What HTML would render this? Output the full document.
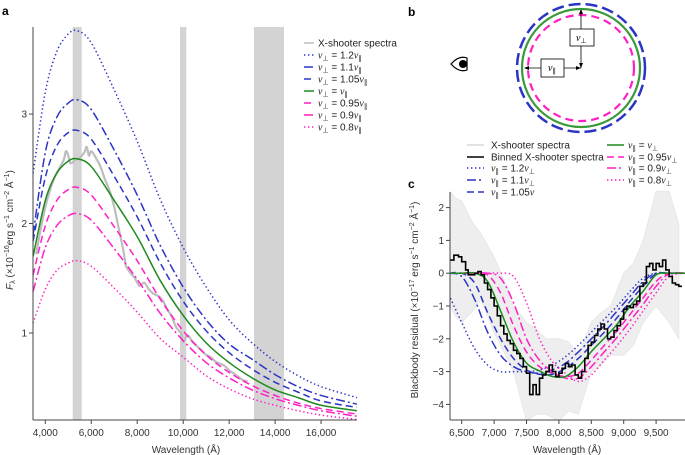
<!DOCTYPE html>
<html><head><meta charset="utf-8">
<style>
html,body{margin:0;padding:0;background:#fff;}
svg{display:block;font-family:"Liberation Sans",sans-serif;}
.t{font-size:10px;fill:#333;}
.lg{font-size:10px;fill:#222;}
.nu{font-family:"Liberation Serif",serif;font-style:italic;}
</style></head>
<body>
<svg id="fig" width="685" height="455" viewBox="0 0 685 455" xmlns="http://www.w3.org/2000/svg">
<text x="2" y="15" font-size="12" font-weight="bold">a</text>
<text x="408" y="16" font-size="12" font-weight="bold">b</text>
<text x="408" y="188" font-size="12" font-weight="bold">c</text>
<g id="pa"></g>
<g id="pb">
  <circle cx="581" cy="68" r="64" fill="none" stroke="#2b35c4" stroke-width="2.5" stroke-dasharray="12 5"/>
  <circle cx="581" cy="68" r="59" fill="none" stroke="#3a9a3a" stroke-width="2.2"/>
  <circle cx="581" cy="68" r="53" fill="none" stroke="#ff1fc6" stroke-width="2.2" stroke-dasharray="8 5"/>
  <line x1="581" y1="68" x2="581" y2="12" stroke="#000" stroke-width="0.8"/>
  <polygon points="581,9 579,14 583,14" fill="#000"/>
  <polygon points="581,68 579,63 583,63" fill="#000"/>
  <line x1="581" y1="68" x2="527" y2="68" stroke="#000" stroke-width="0.8"/>
  <polygon points="524,68 529,66 529,70" fill="#000"/>
  <polygon points="581,68 576,66 576,70" fill="#000"/>
  <rect x="570" y="29" width="24" height="17" fill="#fff" stroke="#000" stroke-width="0.8"/>
  <text x="576" y="41" class="nu" font-size="10">ν<tspan font-size="7" dy="2" font-style="normal">⊥</tspan></text>
  <rect x="541" y="59" width="23" height="18" fill="#fff" stroke="#000" stroke-width="0.8"/>
  <text x="548" y="71" class="nu" font-size="10">ν<tspan font-size="7" dy="2" font-style="normal">∥</tspan></text>
  <g>
    <path d="M451 64 Q459 55 467 58 L467 70 Q459 73 451 64 Z" fill="#fff" stroke="#000" stroke-width="1.2"/>
    <circle cx="463" cy="64" r="4" fill="#000"/>
  </g>
</g>
<g id="lc"></g>
<g id="pc"></g>
</svg>
<script>
// ---------- Panel A data ----------
const aWave = [3470,4000,4500,5000,5400,6000,7000,8000,9000,10000,11000,12000,13000,14000,15000,16000,17560];
const aV12  = [2.46,3.20,3.57,3.73,3.76,3.65,3.22,2.75,2.22,1.78,1.42,1.12,0.91,0.74,0.61,0.51,0.41];
const aV11  = [1.90,2.65,2.97,3.10,3.13,3.04,2.67,2.26,1.80,1.42,1.12,0.90,0.76,0.62,0.51,0.43,0.35];
const aV105 = [1.84,2.42,2.71,2.83,2.85,2.77,2.43,2.06,1.64,1.29,1.02,0.82,0.67,0.55,0.46,0.38,0.32];
const aV10  = [1.70,2.21,2.46,2.57,2.59,2.52,2.21,1.88,1.48,1.16,0.91,0.73,0.59,0.48,0.41,0.34,0.29];
const aV095 = [1.53,1.98,2.21,2.31,2.33,2.26,1.97,1.66,1.31,1.02,0.80,0.64,0.52,0.43,0.36,0.31,0.26];
const aV09  = [1.38,1.78,1.98,2.07,2.09,2.03,1.77,1.49,1.18,0.93,0.73,0.59,0.48,0.40,0.34,0.29,0.24];
const aV08  = [1.09,1.40,1.57,1.64,1.66,1.61,1.41,1.19,0.95,0.78,0.61,0.49,0.40,0.34,0.29,0.25,0.21];
const specWave = [3600,3800,4000,4200,4400,4600,4800,4900,5000,5100,5300,5500,5700,5800,5900,6000,6200,6400,6600,6800,7000,7200,7400,7500,7600,7700,7900,8100,8300,8500,8700,8900,9100,9300,9500,9700,9900,10000,10200,10400,10600,10800,11000,11200,11400,11600,11800,12000,12200,12400,12600,12800];
const specVal  = [1.72,1.95,2.15,2.30,2.42,2.50,2.58,2.66,2.62,2.55,2.58,2.60,2.65,2.70,2.62,2.66,2.60,2.52,2.40,2.30,2.15,1.95,1.75,1.62,1.58,1.55,1.50,1.43,1.46,1.40,1.36,1.34,1.30,1.22,1.15,1.05,1.00,0.92,0.98,0.92,0.88,0.84,0.80,0.78,0.74,0.72,0.70,0.66,0.63,0.60,0.57,0.56];
const bands = [[5192,5583],[9862,10136],[13082,14387]];
const aXTicks = [4000,6000,8000,10000,12000,14000,16000];
const aXTickLabels = ["4,000","6,000","8,000","10,000","12,000","14,000","16,000"];
const aYTicks = [1,2,3];

// ---------- Panel C data ----------
const cWave = [6300,6500,6700,6900,7100,7300,7500,7700,7900,8100,8300,8500,8700,8900,9100,9300,9500,9700,9950];
const cV12  = [-0.65,-1.5,-2.3,-2.8,-3.0,-3.0,-3.0,-2.95,-2.8,-2.55,-2.2,-1.8,-1.4,-1.0,-0.55,-0.15,0,0,0];
const cV11  = [0,-0.1,-0.8,-1.8,-2.5,-2.85,-3.0,-3.05,-2.95,-2.75,-2.4,-2.0,-1.6,-1.15,-0.7,-0.25,0,0,0];
const cV105 = [0,0,-0.3,-1.2,-2.0,-2.6,-2.95,-3.08,-3.08,-2.9,-2.6,-2.2,-1.8,-1.35,-0.85,-0.4,-0.02,0,0];
const cV10  = [0,0,0,-0.25,-1.15,-2.1,-2.74,-2.98,-3.15,-3.15,-2.85,-2.39,-1.98,-1.55,-1.0,-0.55,-0.05,0,0];
const cV095 = [0,0,0,-0.05,-0.6,-1.6,-2.4,-2.85,-3.05,-3.15,-3.05,-2.65,-2.2,-1.75,-1.25,-0.75,-0.25,0,0];
const cV09  = [0,0,0,0,-0.15,-0.9,-2.0,-2.65,-3.0,-3.2,-3.2,-2.85,-2.4,-1.95,-1.45,-0.95,-0.4,-0.02,0];
const cV08  = [0,0,0,0,0,-0.1,-0.9,-2.0,-2.7,-3.05,-3.3,-3.1,-2.65,-2.2,-1.7,-1.15,-0.6,-0.1,0];
const binWave = [6320,6380,6450,6500,6560,6600,6700,6750,6800,6850,6900,6950,7000,7050,7100,7150,7200,7250,7300,7350,7400,7450,7500,7550,7600,7650,7700,7750,7800,7850,7900,7950,8000,8050,8100,8150,8200,8250,8300,8350,8400,8450,8500,8550,8600,8650,8700,8750,8800,8850,8900,8950,9000,9050,9100,9150,9200,9250,9300,9350,9400,9450,9500,9550,9600,9650,9700,9750,9800,9850];
const binVal  = [0.4,0.55,0.5,0.35,0.1,-0.05,0,0.05,-0.05,-0.3,-0.5,-0.75,-1.0,-1.3,-1.6,-1.85,-2.05,-2.15,-2.35,-2.45,-2.6,-2.85,-3.05,-3.7,-3.4,-3.7,-3.2,-3.1,-3.0,-2.8,-3.0,-3.15,-3.05,-2.9,-2.75,-2.85,-2.8,-3.1,-3.2,-3.0,-2.6,-2.2,-2.1,-1.9,-1.7,-1.55,-1.7,-2.0,-1.95,-1.75,-1.6,-1.4,-1.1,-1.0,-1.05,-0.95,-0.85,-0.4,-0.3,0.2,0.3,0.1,0.3,0.2,0.4,0.1,-0.1,-0.3,-0.35,-0.4];
const envWave = [6320,6400,6500,6650,6800,7000,7150,7300,7500,7650,7800,8000,8150,8300,8500,8650,8800,9000,9150,9300,9500,9700,9850];
const envHi   = [2.5,2.3,2.2,1.6,1.2,0.5,-0.2,-1.0,-1.5,-1.7,-2.0,-2.0,-2.1,-2.5,-1.5,-1.2,-1.0,0.0,0.3,1.0,2.5,2.5,1.5];
const envLo   = [-1.0,-1.3,-1.5,-1.2,-0.8,-1.8,-2.4,-3.0,-4.5,-4.3,-4.3,-4.5,-4.2,-4.3,-3.0,-2.8,-2.5,-2.5,-2.2,-1.5,-1.0,-1.5,-2.0];
const cXTicks = [6500,7000,7500,8000,8500,9000,9500];
const cXTickLabels = ["6,500","7,000","7,500","8,000","8,500","9,000","9,500"];
const cYTicks = [2,1,0,-1,-2,-3,-4];

const NS = "http://www.w3.org/2000/svg";
const BLUE = "#2b35c4", GREEN = "#1f8a1f", PINK = "#ff1fc6";
const DOT = "1.4 2.6", DASHDOT = "9 3 2 3", DASH = "7 4";
function mk(parent, tag, attrs){ const e=document.createElementNS(NS,tag); for(const k in attrs) e.setAttribute(k,attrs[k]); parent.appendChild(e); return e; }
function smooth(pts){
  let d="M"+pts[0][0].toFixed(2)+","+pts[0][1].toFixed(2);
  for(let i=0;i<pts.length-1;i++){
    const p0=pts[Math.max(0,i-1)],p1=pts[i],p2=pts[i+1],p3=pts[Math.min(pts.length-1,i+2)];
    const c1=[p1[0]+(p2[0]-p0[0])/6,p1[1]+(p2[1]-p0[1])/6];
    const c2=[p2[0]-(p3[0]-p1[0])/6,p2[1]-(p3[1]-p1[1])/6];
    d+=" C"+c1[0].toFixed(2)+","+c1[1].toFixed(2)+" "+c2[0].toFixed(2)+","+c2[1].toFixed(2)+" "+p2[0].toFixed(2)+","+p2[1].toFixed(2);
  }
  return d;
}

// ---------- Panel A ----------
const pa=document.getElementById("pa");
const aL=33,aR=357,aT=27,aB=420;
const ax=v=>45.3+(v-4000)*0.02298;
const ay=v=>333-(v-1)*109.5;
bands.forEach((b,i)=>{
  const r=mk(pa,"rect",{x:ax(b[0]),y:aT,width:ax(b[1])-ax(b[0]),height:aB-aT,fill:"#d3d3d3"});
  
  
});
const sp=mk(pa,"path",{d:smooth(specWave.map((w,i)=>[ax(w),ay(specVal[i])])),fill:"none",stroke:"#bdbdbd","stroke-width":2.2});


const aSeries=[[aV12,BLUE,DOT,"v-1.2"],[aV11,BLUE,DASHDOT,"v-1.1"],[aV105,BLUE,DASH,"v-1.05"],[aV10,GREEN,"","v-1.0"],[aV095,PINK,DASH,"v-0.95"],[aV09,PINK,DASHDOT,"v-0.9"],[aV08,PINK,DOT,"v-0.8"]];
aSeries.forEach(s=>{
  const p=mk(pa,"path",{d:smooth(aWave.map((w,i)=>[ax(w),ay(s[0][i])])),fill:"none",stroke:s[1],"stroke-width":1.5,"stroke-dasharray":s[2]||"none"});
  
  
});
let g=mk(pa,"g",{});


mk(g,"line",{x1:aL,y1:aB,x2:aR,y2:aB,stroke:"#444","stroke-width":1});
aXTicks.forEach((t,i)=>{
  mk(g,"line",{x1:ax(t),y1:aB,x2:ax(t),y2:aB+4,stroke:"#444"});
  const tx=mk(g,"text",{x:ax(t),y:436,"text-anchor":"middle",class:"t"}); tx.textContent=aXTickLabels[i];
});
const axl=mk(g,"text",{x:186,y:453,"text-anchor":"middle",class:"t"}); axl.textContent="Wavelength (Å)";
g=mk(pa,"g",{});


mk(g,"line",{x1:aL,y1:aT,x2:aL,y2:aB,stroke:"#444","stroke-width":1});
aYTicks.forEach(t=>{
  mk(g,"line",{x1:aL-4,y1:ay(t),x2:aL,y2:ay(t),stroke:"#444"});
  const tx=mk(g,"text",{x:aL-6,y:ay(t)+3.5,"text-anchor":"end",class:"t"}); tx.textContent=t;
});
const yl=mk(g,"text",{transform:"translate(13,230) rotate(-90)","text-anchor":"middle",class:"t","font-size":"9.5"});
yl.innerHTML='<tspan font-style="italic">F</tspan><tspan font-size="7" dy="2">λ</tspan><tspan dy="-2"> (×10</tspan><tspan font-size="7" dy="-4">−16</tspan><tspan dy="4">erg s</tspan><tspan font-size="7" dy="-4">−1</tspan><tspan dy="4"> cm</tspan><tspan font-size="7" dy="-4">−2</tspan><tspan dy="4"> Å</tspan><tspan font-size="7" dy="-4">−1</tspan><tspan dy="4">)</tspan>';

// Legend A
const la=mk(pa,"g",{});


const aLeg=[["#bdbdbd","",null,"X-shooter spectra"],[BLUE,DOT,"1.2"],[BLUE,DASHDOT,"1.1"],[BLUE,DASH,"1.05"],[GREEN,"",""],[PINK,DASH,"0.95"],[PINK,DASHDOT,"0.9"],[PINK,DOT,"0.8"]];
aLeg.forEach((e,i)=>{
  const y=43+i*12;
  mk(la,"line",{x1:304,y1:y,x2:314,y2:y,stroke:e[0],"stroke-width":1.5,"stroke-dasharray":e[1]||"none"});
  const t=mk(la,"text",{x:318,y:y+3.5,class:"lg"});
  if(e[2]===null){ t.textContent=e[3]; }
  else t.innerHTML='<tspan class="nu">ν</tspan><tspan font-size="7" dy="2">⊥</tspan><tspan dy="-2"> = '+e[2]+'</tspan><tspan class="nu">ν</tspan><tspan font-size="7" dy="2">∥</tspan>';
  
  
});

// ---------- Legend C ----------
const lc=document.getElementById("lc");
const cLeg=[[467,145,"#d9d9d9","",'X-shooter spectra'],[467,157,"#000","",'Binned X-shooter spectra'],
 [467,168,BLUE,DOT,'<tspan class="nu">ν</tspan><tspan font-size="7" dy="2">∥</tspan><tspan dy="-2"> = 1.2</tspan><tspan class="nu">ν</tspan><tspan font-size="7" dy="2">⊥</tspan>'],
 [467,180,BLUE,DASHDOT,'<tspan class="nu">ν</tspan><tspan font-size="7" dy="2">∥</tspan><tspan dy="-2"> = 1.1</tspan><tspan class="nu">ν</tspan><tspan font-size="7" dy="2">⊥</tspan>'],
 [467,192,BLUE,DASH,'<tspan class="nu">ν</tspan><tspan font-size="7" dy="2">∥</tspan><tspan dy="-2"> = 1.05</tspan><tspan class="nu">ν</tspan>'],
 [607,145,GREEN,"",'<tspan class="nu">ν</tspan><tspan font-size="7" dy="2">∥</tspan><tspan dy="-2"> = </tspan><tspan class="nu">ν</tspan><tspan font-size="7" dy="2">⊥</tspan>'],
 [607,157,PINK,DASH,'<tspan class="nu">ν</tspan><tspan font-size="7" dy="2">∥</tspan><tspan dy="-2"> = 0.95</tspan><tspan class="nu">ν</tspan><tspan font-size="7" dy="2">⊥</tspan>'],
 [607,168,PINK,DASHDOT,'<tspan class="nu">ν</tspan><tspan font-size="7" dy="2">∥</tspan><tspan dy="-2"> = 0.9</tspan><tspan class="nu">ν</tspan><tspan font-size="7" dy="2">⊥</tspan>'],
 [607,180,PINK,DOT,'<tspan class="nu">ν</tspan><tspan font-size="7" dy="2">∥</tspan><tspan dy="-2"> = 0.8</tspan><tspan class="nu">ν</tspan><tspan font-size="7" dy="2">⊥</tspan>']];
cLeg.forEach(e=>{
  const x0 = e[0]===467 ? 467 : 607;
  mk(lc,"line",{x1:x0,y1:e[1],x2:x0+17,y2:e[1],stroke:e[2],"stroke-width":1.5,"stroke-dasharray":e[3]||"none"});
  const t=mk(lc,"text",{x:x0+ (e[0]===467?24:21),y:e[1]+3.5,class:"lg"});
  t.innerHTML=e[4];
  
  
});

// ---------- Panel C ----------
const pc=document.getElementById("pc");
const cL=450,cR=685,cT=192,cB=420;
const cx=v=>461.7+(v-6500)*(32.4/500);
const cy=v=>273.2-v*32.8;
const clip=mk(pc,"clipPath",{id:"cclip"}); mk(clip,"rect",{x:cL,y:cT-4,width:cR-cL,height:cB-cT+4});
const cg=mk(pc,"g",{"clip-path":"url(#cclip)"});
const envPts=envWave.map((w,i)=>[cx(w),cy(envHi[i])]);
const envLoPts=envWave.map((w,i)=>[cx(w),cy(envLo[i])]).reverse();
const env=mk(cg,"path",{d:"M"+envPts.map(p=>p.join(",")).join(" L")+" L"+envLoPts.map(p=>p.join(",")).join(" L")+" Z",fill:"#eeeeee",stroke:"#e8e8e8","stroke-width":1});


const cSeries=[[cV12,BLUE,DOT,"v-1.2"],[cV11,BLUE,DASHDOT,"v-1.1"],[cV105,BLUE,DASH,"v-1.05"],[cV095,PINK,DASH,"v-0.95"],[cV09,PINK,DASHDOT,"v-0.9"],[cV08,PINK,DOT,"v-0.8"],[cV10,GREEN,"","v-1.0"]];
cSeries.forEach(s=>{
  const p=mk(cg,"path",{d:smooth(cWave.map((w,i)=>[cx(w),cy(s[0][i])])),fill:"none",stroke:s[1],"stroke-width":1.5,"stroke-dasharray":s[2]||"none"});
  
  
});
let bd="";
binWave.forEach((w,i)=>{
  const x1=cx(w), x2=cx(i<binWave.length-1?binWave[i+1]:w+50), y=cy(binVal[i]);
  bd += (i===0?"M":" L")+x1.toFixed(1)+","+y.toFixed(1)+" L"+x2.toFixed(1)+","+y.toFixed(1);
});
const bp=mk(cg,"path",{d:bd,fill:"none",stroke:"#000","stroke-width":1.6});


g=mk(pc,"g",{});


mk(g,"line",{x1:cL,y1:cB,x2:cR,y2:cB,stroke:"#444"});
cXTicks.forEach((t,i)=>{
  mk(g,"line",{x1:cx(t),y1:cB,x2:cx(t),y2:cB+4,stroke:"#444"});
  const tx=mk(g,"text",{x:cx(t),y:436,"text-anchor":"middle",class:"t"}); tx.textContent=cXTickLabels[i];
});
const cxl=mk(g,"text",{x:567,y:453,"text-anchor":"middle",class:"t"}); cxl.textContent="Wavelength (Å)";
g=mk(pc,"g",{});


mk(g,"line",{x1:cL,y1:cT,x2:cL,y2:cB,stroke:"#444"});
cYTicks.forEach(t=>{
  mk(g,"line",{x1:cL-4,y1:cy(t),x2:cL,y2:cy(t),stroke:"#444"});
  const tx=mk(g,"text",{x:cL-6,y:cy(t)+3.5,"text-anchor":"end",class:"t"}); tx.textContent=(t<0?"−"+(-t):t);
});
const cyl=mk(g,"text",{transform:"translate(418,300) rotate(-90)","text-anchor":"middle",class:"t","font-size":"9.5"});
cyl.innerHTML='Blackbody residual (×10<tspan font-size="7" dy="-4">−17</tspan><tspan dy="4"> erg s</tspan><tspan font-size="7" dy="-4">−1</tspan><tspan dy="4"> cm</tspan><tspan font-size="7" dy="-4">−2</tspan><tspan dy="4"> Å</tspan><tspan font-size="7" dy="-4">−1</tspan><tspan dy="4">)</tspan>';
</script>
</body></html>
